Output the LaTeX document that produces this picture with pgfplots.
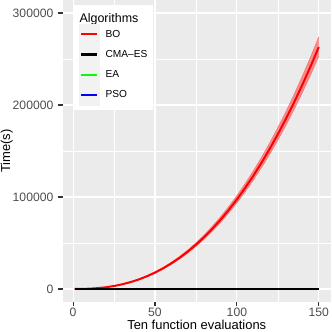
\documentclass[border=0pt]{standalone}
\usepackage{fontspec}
\setmainfont{Liberation Sans}
\usepackage{pgfplots}
\usepackage{pgfplotstable}
\pgfplotsset{compat=1.18}
\usepgfplotslibrary{fillbetween}
\definecolor{ggbg}{HTML}{EBEBEB}
\definecolor{ggkey}{HTML}{F2F2F2}
\definecolor{ggtext}{HTML}{4D4D4D}
\definecolor{ggtick}{HTML}{333333}
\definecolor{ggred}{HTML}{FF0000}
\definecolor{gggreen}{HTML}{00FF00}
\definecolor{ggblue}{HTML}{0000FF}

\pgfplotstableread{
x mean up low
1 1 1 1
5 63 66 61
10 346 361 333
15 933 972 898
20 1888 1967 1816
25 3264 3401 3140
30 5100 5314 4906
35 7441 7754 7158
40 10318 10751 9926
45 13771 14349 13248
50 17826 18575 17149
55 22518 23464 21662
60 27862 29032 26803
65 33901 35325 32613
70 40650 42357 39105
75 48137 50159 46308
80 56374 58742 54232
85 65406 68153 62921
90 75236 78396 72377
95 85883 89490 82619
100 97394 101485 93693
105 109758 114368 105587
110 123013 128180 118339
115 137162 142923 131950
120 152240 158634 146455
125 168265 175332 161871
130 185228 193008 178189
135 203175 211708 195454
140 222098 231426 213658
145 242039 252205 232842
150 263000 274046 253006
}\bo

\pgfplotstableread{
x t
1 0
50 0
100 0
150 0
}\zero

\begin{document}
\begin{tikzpicture}
\begin{axis}[
  at={(0,0)}, anchor=south west,
  scale only axis, width=268.5bp, height=302bp,
  xmin=-6.45, xmax=157.45, ymin=-14130, ymax=314130,
  xtick={0,50,100,150}, ytick={0,100000,200000,300000},
  minor xtick={25,75,125}, minor ytick={50000,150000,250000},
  grid=both,
  major grid style={white, line width=1.07bp},
  minor grid style={white, line width=0.53bp},
  axis background/.style={fill=ggbg},
  axis line style={draw=none},
  tick align=outside, tick pos=left,
  major tick length=4bp, minor tick length=0bp,
  every tick/.style={ggtick, line width=1.07bp},
  scaled y ticks=false,
  yticklabel style={/pgf/number format/fixed, /pgf/number format/1000 sep={},
    anchor=east, inner sep=0pt, xshift=-5bp},
  xticklabel style={anchor=north, inner sep=0pt, yshift=-1.5bp},
  /pgf/number format/assume math mode=true,
  tick label style={font=\fontsize{12.2}{14}\selectfont, text=ggtext},
  xlabel={Ten function evaluations}, ylabel={Time(s)},
  label style={font=\fontsize{13}{15}\selectfont, inner sep=0pt},
  xlabel style={at={(axis description cs:0.5,-0.0894)}, anchor=base},
  ylabel style={at={(axis description cs:-0.1955,0.5)}, anchor=base},
  legend style={at={(axis description cs:0.039,0.983)}, anchor=north west,
    fill=white, draw=none, inner xsep=6bp, inner ysep=5.5bp,
    row sep=0bp, column sep=6bp, nodes={inner sep=0bp},
    font=\fontsize{10.2}{12}\selectfont},
  legend cell align=left,
  legend image code/.code={\fill[ggkey] (0bp,-9.875bp) rectangle (20bp,9.875bp);
    \draw[line width=2.2bp] (2bp,0bp) -- (18bp,0bp);},
]
\addlegendimage{empty legend}
\addlegendimage{ggred}
\addlegendimage{black}
\addlegendimage{gggreen}
\addlegendimage{ggblue}

\addplot[name path=up, ggred!55, line width=0.6bp, forget plot] table[x=x,y=up]{\bo};
\addplot[name path=low, ggred!55, line width=0.6bp, forget plot] table[x=x,y=low]{\bo};
\addplot[ggred, fill opacity=0.4, draw=none, forget plot] fill between[of=up and low];
\addplot[ggred, line width=2bp, forget plot] table[x=x,y=mean]{\bo};
\addplot[gggreen, line width=2.6bp, forget plot] table[x=x,y=t]{\zero};
\addplot[ggblue, line width=2.6bp, forget plot] table[x=x,y=t]{\zero};
\addplot[black, line width=2.6bp, forget plot] table[x=x,y=t]{\zero};

\legend{{\fontsize{12.5}{14}\selectfont\hspace*{-26bp}\rule[-8bp]{0pt}{20bp}Algorithms},BO,CMA\textendash ES,EA,PSO}
\end{axis}
\pgfresetboundingbox
\useasboundingbox (-62.5bp,-30bp) rectangle (269.5bp,302bp);
\end{tikzpicture}
\end{document}
